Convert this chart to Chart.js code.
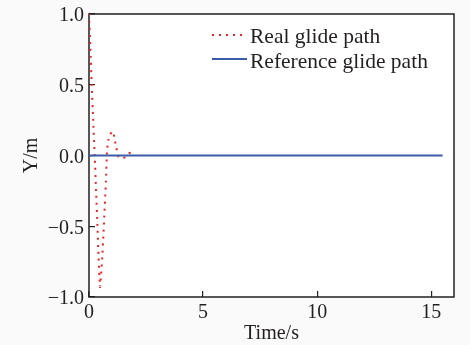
<!DOCTYPE html>
<html>
<head>
<meta charset="utf-8">
<script src="https://cdn.jsdelivr.net/npm/chart.js@4/dist/chart.umd.min.js"></script>
<style>
  body { margin: 0; background: #fafafa; }
  #wrap { width: 470px; height: 345px; }
</style>
</head>
<body>
<div id="wrap"><canvas id="myChart" width="470" height="345"></canvas></div>
<script>
// time (s) and lateral offset (m)
const realT = [0, 0.06, 0.12, 0.18, 0.25, 0.31, 0.37, 0.42, 0.46, 0.48, 0.5, 0.54, 0.58, 0.62, 0.67, 0.74, 0.79, 0.85, 0.93, 1.05, 1.12, 1.19, 1.3, 1.45, 1.6, 1.75, 1.85, 2.0];
const realY = [1.0, 0.76, 0.5, 0.26, 0.0, -0.25, -0.5, -0.72, -0.86, -0.93, -0.9, -0.82, -0.72, -0.6, -0.43, -0.19, 0.03, 0.11, 0.15, 0.17, 0.12, 0.06, -0.01, -0.02, -0.01, 0.015, 0.02, 0.0];
const refT = [0, 15.5];
const refY = [0, 0];
const xTicks = [0, 5, 10, 15];
const yTicks = [-1.0, -0.5, 0.0, 0.5, 1.0];
const seriesNames = ['Real glide path', 'Reference glide path'];

const ink = '#231f20';
const red = '#e8262b';
const blue = '#3b5ca8';
const serif = '"Liberation Serif", "Times New Roman", serif';

const toPoints = (xs, ys) => xs.map((x, i) => ({ x: x, y: ys[i] }));

// white plot area, frame and the legend inside the plot
const framePlugin = {
  id: 'frame',
  beforeDraw(chart) {
    const { ctx, chartArea: a } = chart;
    ctx.save();
    ctx.fillStyle = '#ffffff';
    ctx.fillRect(a.left, a.top, a.right - a.left, a.bottom - a.top);
    ctx.restore();
  },
  beforeDatasetsDraw(chart) {
    const { ctx, chartArea: a } = chart;
    ctx.save();
    ctx.strokeStyle = ink;
    ctx.lineWidth = 1.5;
    ctx.strokeRect(a.left, a.top, a.right - a.left, a.bottom - a.top);
    ctx.restore();
  },
  afterDraw(chart) {
    const { ctx, chartArea: a } = chart;
    const x0 = a.left + 123, x1 = a.left + 158, tx = a.left + 161;
    ctx.save();
    ctx.font = '21.5px ' + serif;
    ctx.fillStyle = ink;
    ctx.textBaseline = 'middle';
    // real
    ctx.strokeStyle = red;
    ctx.lineWidth = 2;
    ctx.setLineDash([2, 5]);
    ctx.beginPath(); ctx.moveTo(x0, a.top + 21); ctx.lineTo(x1, a.top + 21); ctx.stroke();
    ctx.fillText(seriesNames[0], tx, a.top + 23);
    // reference
    ctx.strokeStyle = blue;
    ctx.setLineDash([]);
    ctx.beginPath(); ctx.moveTo(x0, a.top + 45); ctx.lineTo(x1, a.top + 45); ctx.stroke();
    ctx.fillText(seriesNames[1], tx, a.top + 48);
    ctx.restore();
  }
};

new Chart(document.getElementById('myChart'), {
  type: 'line',
  data: {
    datasets: [{
      label: seriesNames[0],
      data: toPoints(realT, realY),
      borderColor: red,
      borderWidth: 2,
      borderDash: [2, 5],
      pointRadius: 0,
      tension: 0.2,
      order: 1
    }, {
      label: seriesNames[1],
      data: toPoints(refT, refY),
      borderColor: blue,
      borderWidth: 2,
      pointRadius: 0,
      order: 0
    }]
  },
  options: {
    responsive: false,
    animation: false,
    layout: { padding: { left: 0, top: 14, right: 16, bottom: 0 } },
    plugins: {
      legend: { display: false },
      tooltip: { enabled: false }
    },
    scales: {
      x: {
        type: 'linear',
        min: 0,
        max: 16,
        afterFit: (s) => { s.height = 48; s.paddingLeft = 0; s.paddingRight = 0; },
        afterBuildTicks: (s) => { s.ticks = xTicks.map(v => ({ value: v })); },
        grid: { drawOnChartArea: false, tickLength: -6, color: ink, lineWidth: 1.2 },
        border: { display: false },
        ticks: {
          color: ink,
          padding: 10,
          maxRotation: 0,
          font: { family: serif, size: 20 },
          callback: (v) => String(v)
        },
        title: {
          display: true,
          text: 'Time/s',
          color: ink,
          padding: { top: 0, bottom: 0 },
          font: { family: serif, size: 20, lineHeight: 1.1 }
        }
      },
      y: {
        type: 'linear',
        min: -1,
        max: 1,
        afterFit: (s) => { s.width = 89; s.paddingTop = 0; s.paddingBottom = 0; },
        afterBuildTicks: (s) => { s.ticks = yTicks.map(v => ({ value: v })); },
        grid: { drawOnChartArea: false, tickLength: -6, color: ink, lineWidth: 1.2 },
        border: { display: false },
        ticks: {
          color: ink,
          padding: 11,
          labelOffset: 2,
          font: { family: serif, size: 20 },
          callback: (v) => (v < 0 ? '\u2212' : '') + Math.abs(v).toFixed(1)
        },
        title: {
          display: true,
          text: 'Y/m',
          color: ink,
          padding: { top: 20, bottom: 0 },
          font: { family: serif, size: 20, lineHeight: 1.2 }
        }
      }
    }
  },
  plugins: [framePlugin]
});
</script>
</body>
</html>
